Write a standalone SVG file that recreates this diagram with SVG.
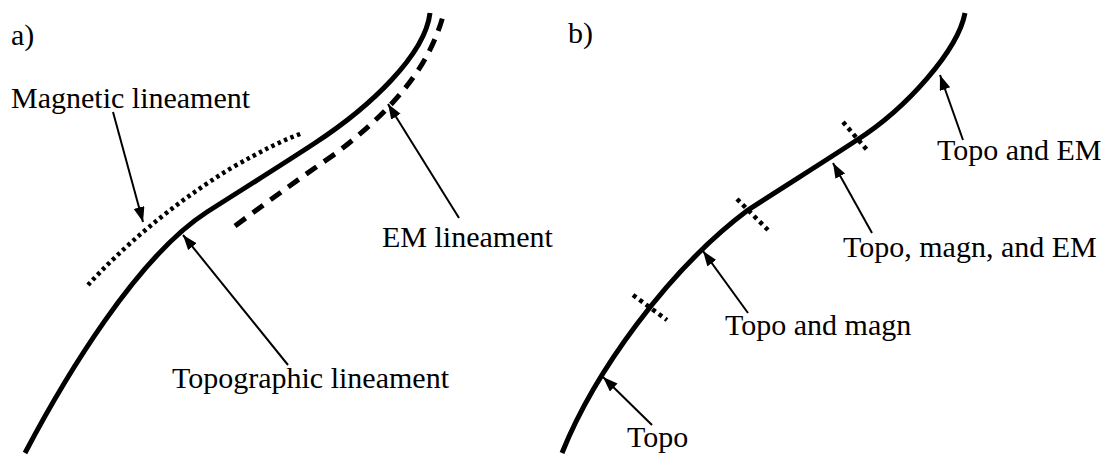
<svg xmlns="http://www.w3.org/2000/svg" width="1112" height="455" viewBox="0 0 1112 455">
<defs>
<marker id="ah" markerUnits="userSpaceOnUse" markerWidth="16" markerHeight="12" refX="15" refY="5.5" orient="auto">
<path d="M0,0 L15,5.5 L0,11 z" fill="#000"/>
</marker>
<style>
.lbl{font-size:30px;fill:#000}
.main{fill:none;stroke:#000;stroke-width:5}
.em{fill:none;stroke:#000;stroke-width:5;stroke-dasharray:13,9}
.mag{fill:none;stroke:#000;stroke-width:4.5;stroke-dasharray:3.5,3.5}
.tick{fill:none;stroke:#000;stroke-width:4.5;stroke-dasharray:4,4}
.arr{fill:none;stroke:#000;stroke-width:2;marker-end:url(#ah)}
</style>
</defs>
<rect width="1112" height="455" fill="#fff"/>
<g font-family="'Liberation Serif', 'Times New Roman', serif">
<g id="panel-a">
<text class="lbl" x="11" y="45">a)</text>
<path id="topo-a" class="main" d="M25,453 C65,377 137,257 207,212 C243,189 280,166 315,143 C370,107 425,55 430,13"/>
<path id="em-a" class="em" d="M235,226 C270,200 300,178 335,154 C390,112 428,70 443,16"/>
<path id="mag-a" class="mag" d="M88,285 C120,250 170,205 233,167 C260,152 280,141 303,133"/>
</g>
<g id="panel-b">
<text class="lbl" x="568" y="43">b)</text>
<path id="topo-b" class="main" d="M562,453 C594,373 668,270 748,210 C785,186 822,163 857,140 C907,108 958,50 965,13"/>
<path class="tick" d="M633,295 L667,320"/>
<path class="tick" d="M737,199 L768,230"/>
<path class="tick" d="M843,122 L867,150"/>
</g>
<g id="label-magnetic"><text class="lbl" x="11" y="108">Magnetic lineament</text></g>
<g id="label-em"><text class="lbl" x="382" y="247">EM lineament</text></g>
<g id="label-topographic"><text class="lbl" x="172" y="388">Topographic lineament</text></g>
<g id="label-topo"><text class="lbl" x="627" y="447">Topo</text></g>
<g id="label-topo-magn"><text class="lbl" x="725" y="335">Topo and magn</text></g>
<g id="label-topo-magn-em"><text class="lbl" x="843" y="257">Topo, magn, and EM</text></g>
<g id="label-topo-em"><text class="lbl" x="937" y="160">Topo and EM</text></g>
</g>
<g id="connectors">
<path class="arr" d="M113,112 L143,222"/>
<path class="arr" d="M459,218 L388,104"/>
<path class="arr" d="M288,365 L183,235"/>
<path class="arr" d="M652,425 L603,377"/>
<path class="arr" d="M748,313 L703,251"/>
<path class="arr" d="M872,233 L833,163"/>
<path class="arr" d="M963,140 L940,75"/>
</g>
</svg>
